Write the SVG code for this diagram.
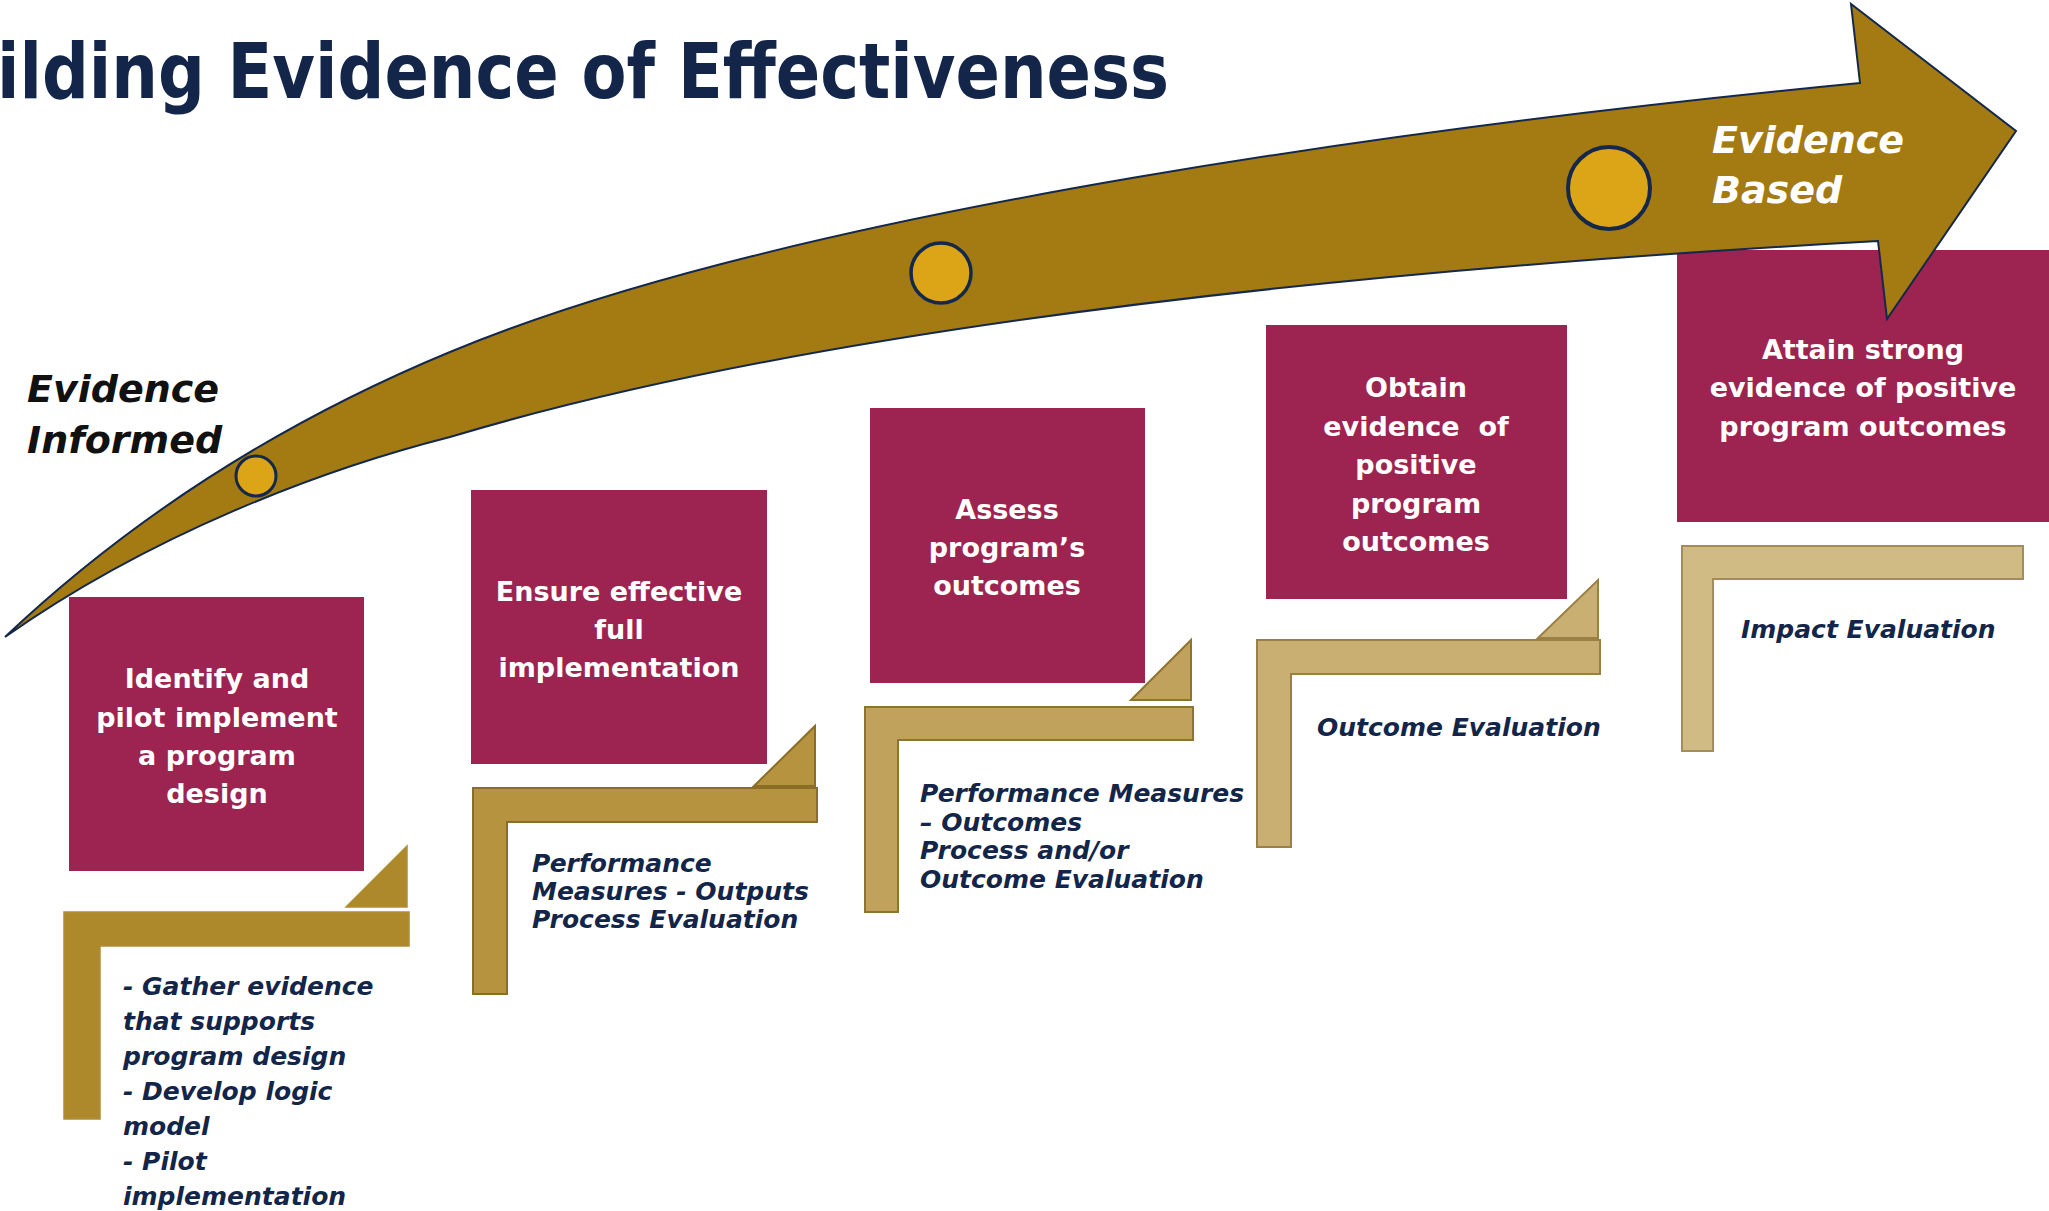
<svg xmlns="http://www.w3.org/2000/svg" width="2049" height="1211" viewBox="0 0 2049 1211">
<style>
.box{fill:#9d2450}
.bt{font-family:"DejaVu Sans",sans-serif;font-weight:bold;font-size:27px;fill:#ffffff;text-anchor:middle}
.lt{font-family:"DejaVu Sans",sans-serif;font-weight:bold;font-style:italic;font-size:25px;fill:#13264a}
.big{font-family:"DejaVu Sans",sans-serif;font-weight:bold;font-style:italic;font-size:38px}
.dot{fill:#dca417;stroke:#13284b}
.s1{fill:#ae892b;stroke:#b08d30;stroke-width:1.5}
.s2{fill:#b5933f;stroke:#8a6d27;stroke-width:2}
.s3{fill:#c1a25d;stroke:#8e7434;stroke-width:2}
.s4{fill:#c9b072;stroke:#9a8044;stroke-width:2}
.s5{fill:#d1bb85;stroke:#a48d5a;stroke-width:2}
</style>
<rect width="2049" height="1211" fill="#ffffff"/>
<g id="title">
<text x="-3" y="98" font-family="DejaVu Sans, sans-serif" font-weight="bold" font-size="76" fill="#13264a" textLength="1172" lengthAdjust="spacingAndGlyphs">ilding Evidence of Effectiveness</text>
</g>
<g id="step1">
<rect class="box" x="69" y="597" width="295" height="274"/>
<text class="bt" x="217" y="688">Identify and</text>
<text class="bt" x="217" y="727">pilot implement</text>
<text class="bt" x="217" y="765">a program</text>
<text class="bt" x="217" y="803">design</text>
<polygon class="s1" points="346,907 407,846 407,907"/>
<path class="s1" d="M64 912H409V946H100V1119H64Z"/>
<text class="lt" x="123" y="995" font-size="26.5">- Gather evidence</text>
<text class="lt" x="123" y="1030" font-size="26.5">that supports</text>
<text class="lt" x="123" y="1065" font-size="26.5">program design</text>
<text class="lt" x="123" y="1100" font-size="26.5">- Develop logic</text>
<text class="lt" x="123" y="1135" font-size="26.5">model</text>
<text class="lt" x="123" y="1170" font-size="26.5">- Pilot</text>
<text class="lt" x="123" y="1205" font-size="26.5">implementation</text>
</g>
<g id="step2">
<rect class="box" x="471" y="490" width="296" height="274"/>
<text class="bt" x="619" y="601">Ensure effective</text>
<text class="bt" x="619" y="639">full</text>
<text class="bt" x="619" y="677">implementation</text>
<polygon class="s2" points="754,786 815,726 815,786"/>
<path class="s2" d="M473 788H817V822H507V994H473Z"/>
<text class="lt" x="532" y="872">Performance</text>
<text class="lt" x="532" y="900">Measures - Outputs</text>
<text class="lt" x="532" y="928">Process Evaluation</text>
</g>
<g id="step3">
<rect class="box" x="870" y="408" width="275" height="275"/>
<text class="bt" x="1007" y="519">Assess</text>
<text class="bt" x="1007" y="557">program’s</text>
<text class="bt" x="1007" y="595">outcomes</text>
<polygon class="s3" points="1131,700 1191,640 1191,700"/>
<path class="s3" d="M865 707H1193V740H898V912H865Z"/>
<text class="lt" x="920" y="802">Performance Measures</text>
<text class="lt" x="920" y="831">– Outcomes</text>
<text class="lt" x="920" y="859">Process and/or</text>
<text class="lt" x="920" y="888">Outcome Evaluation</text>
</g>
<g id="step4">
<rect class="box" x="1266" y="325" width="301" height="274"/>
<text class="bt" x="1416" y="397">Obtain</text>
<text class="bt" x="1416" y="436" xml:space="preserve">evidence  of</text>
<text class="bt" x="1416" y="474">positive</text>
<text class="bt" x="1416" y="513">program</text>
<text class="bt" x="1416" y="551">outcomes</text>
<polygon class="s4" points="1538,638 1598,580 1598,638"/>
<path class="s4" d="M1257 640H1600V674H1291V847H1257Z"/>
<text class="lt" x="1317" y="736" font-size="26">Outcome Evaluation</text>
</g>
<g id="step5">
<rect class="box" x="1677" y="250" width="372" height="272"/>
<text class="bt" x="1863" y="359">Attain strong</text>
<text class="bt" x="1863" y="397">evidence of positive</text>
<text class="bt" x="1863" y="436">program outcomes</text>
<path class="s5" d="M1682 546H2023V579H1713V751H1682Z"/>
<text class="lt" x="1741" y="638" font-size="25.5">Impact Evaluation</text>
</g>
<g id="connectors">
<path d="M5 637C150 500 310 410 450 352C800 206 1460 121.8 1860 83L1851 4L2016 131L1887 319L1878 241C1428 266 850 317 450 437C320 470 150 535 5 637Z" fill="#a47a12" stroke="#13284b" stroke-width="2" stroke-linejoin="miter"/>
<circle class="dot" cx="256" cy="476" r="20" stroke-width="3"/>
<circle class="dot" cx="941" cy="273" r="30" stroke-width="3.5"/>
<circle class="dot" cx="1609" cy="188" r="41" stroke-width="4"/>
</g>
<g id="labels">
<text class="big" x="27" y="402" fill="#111111">Evidence</text>
<text class="big" x="27" y="453" fill="#111111" font-size="37">Informed</text>
<text class="big" x="1712" y="153" fill="#ffffff">Evidence</text>
<text class="big" x="1712" y="203" fill="#ffffff">Based</text>
</g>
</svg>
